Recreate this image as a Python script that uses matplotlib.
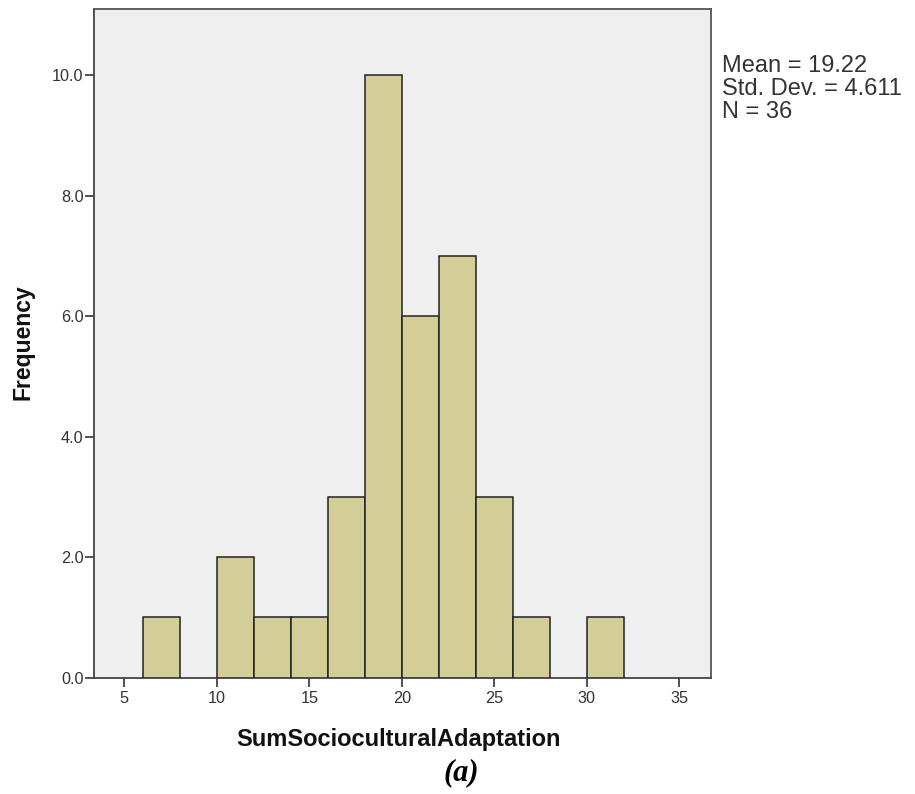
import matplotlib
matplotlib.use("Agg")
import matplotlib.pyplot as plt
import numpy as np

bin_lefts = [6, 8, 10, 12, 14, 16, 18, 20, 22, 24, 26, 28, 30]
bin_width = 2
counts = [1, 0, 2, 1, 1, 3, 10, 6, 7, 3, 1, 0, 1]
x_ticks = [5, 10, 15, 20, 25, 30, 35]
y_ticks = [0, 2, 4, 6, 8, 10]
stats_lines = ["Mean = 19.22", "Std. Dev. = 4.611", "N = 36"]
x_label = "SumSocioculturalAdaptation"
y_label = "Frequency"
caption = "(a)"

plt.rcParams['font.family'] = ['Liberation Sans', 'DejaVu Sans']

W, H = 915, 794
fig = plt.figure(figsize=(W/100, H/100), dpi=100)
ax = fig.add_axes([94/W, 1-677.7/H, (710.7-94)/W, (677.7-9)/H])
ax.set_facecolor('#EFEFEF')

ax.bar([l for l, c in zip(bin_lefts, counts) if c > 0],
       [c for c in counts if c > 0], width=bin_width, align='edge',
       color='#D3CE97', edgecolor='#222222', linewidth=1.1, zorder=3)

ax.set_xlim(3.36, 36.7)
ax.set_ylim(0, 11.1)
ax.set_xticks(x_ticks)
ax.set_xticklabels([str(t) for t in x_ticks])
ax.set_yticks(y_ticks)
ax.set_yticklabels([f"{t:.1f}" for t in y_ticks])
ax.tick_params(axis='both', direction='out', length=6.5, width=1.2, color='#333333',
               labelsize=11.7, labelcolor='#333333')
ax.tick_params(axis='y', pad=1)
ax.tick_params(axis='x', pad=3)
for s in ax.spines.values():
    s.set_color('#555555')
    s.set_linewidth(1.3)
ax.spines['left'].set_color('#444444')
ax.spines['bottom'].set_color('#444444')

fig.text(399/W, 1-745.7/H, x_label, fontsize=17, fontweight='bold', color='#111111',
         ha='center', va='baseline')
fig.text(23.5/W, 1-342/H, y_label, fontsize=16.5, fontweight='bold', color='#111111',
         ha='center', va='center', rotation=90)

baselines = [71.7, 95, 118]
for line, b in zip(stats_lines, baselines):
    fig.text(722.5/W, 1 - b/H, line, fontsize=17, color='#333333',
             ha='left', va='baseline')

fig.text(461.7/W, 1-772.5/H, caption, fontsize=22, fontweight='bold', fontstyle='italic',
         family=['Liberation Serif'], ha='center', va='center', color='black')

fig.savefig("out.png", dpi=100)
